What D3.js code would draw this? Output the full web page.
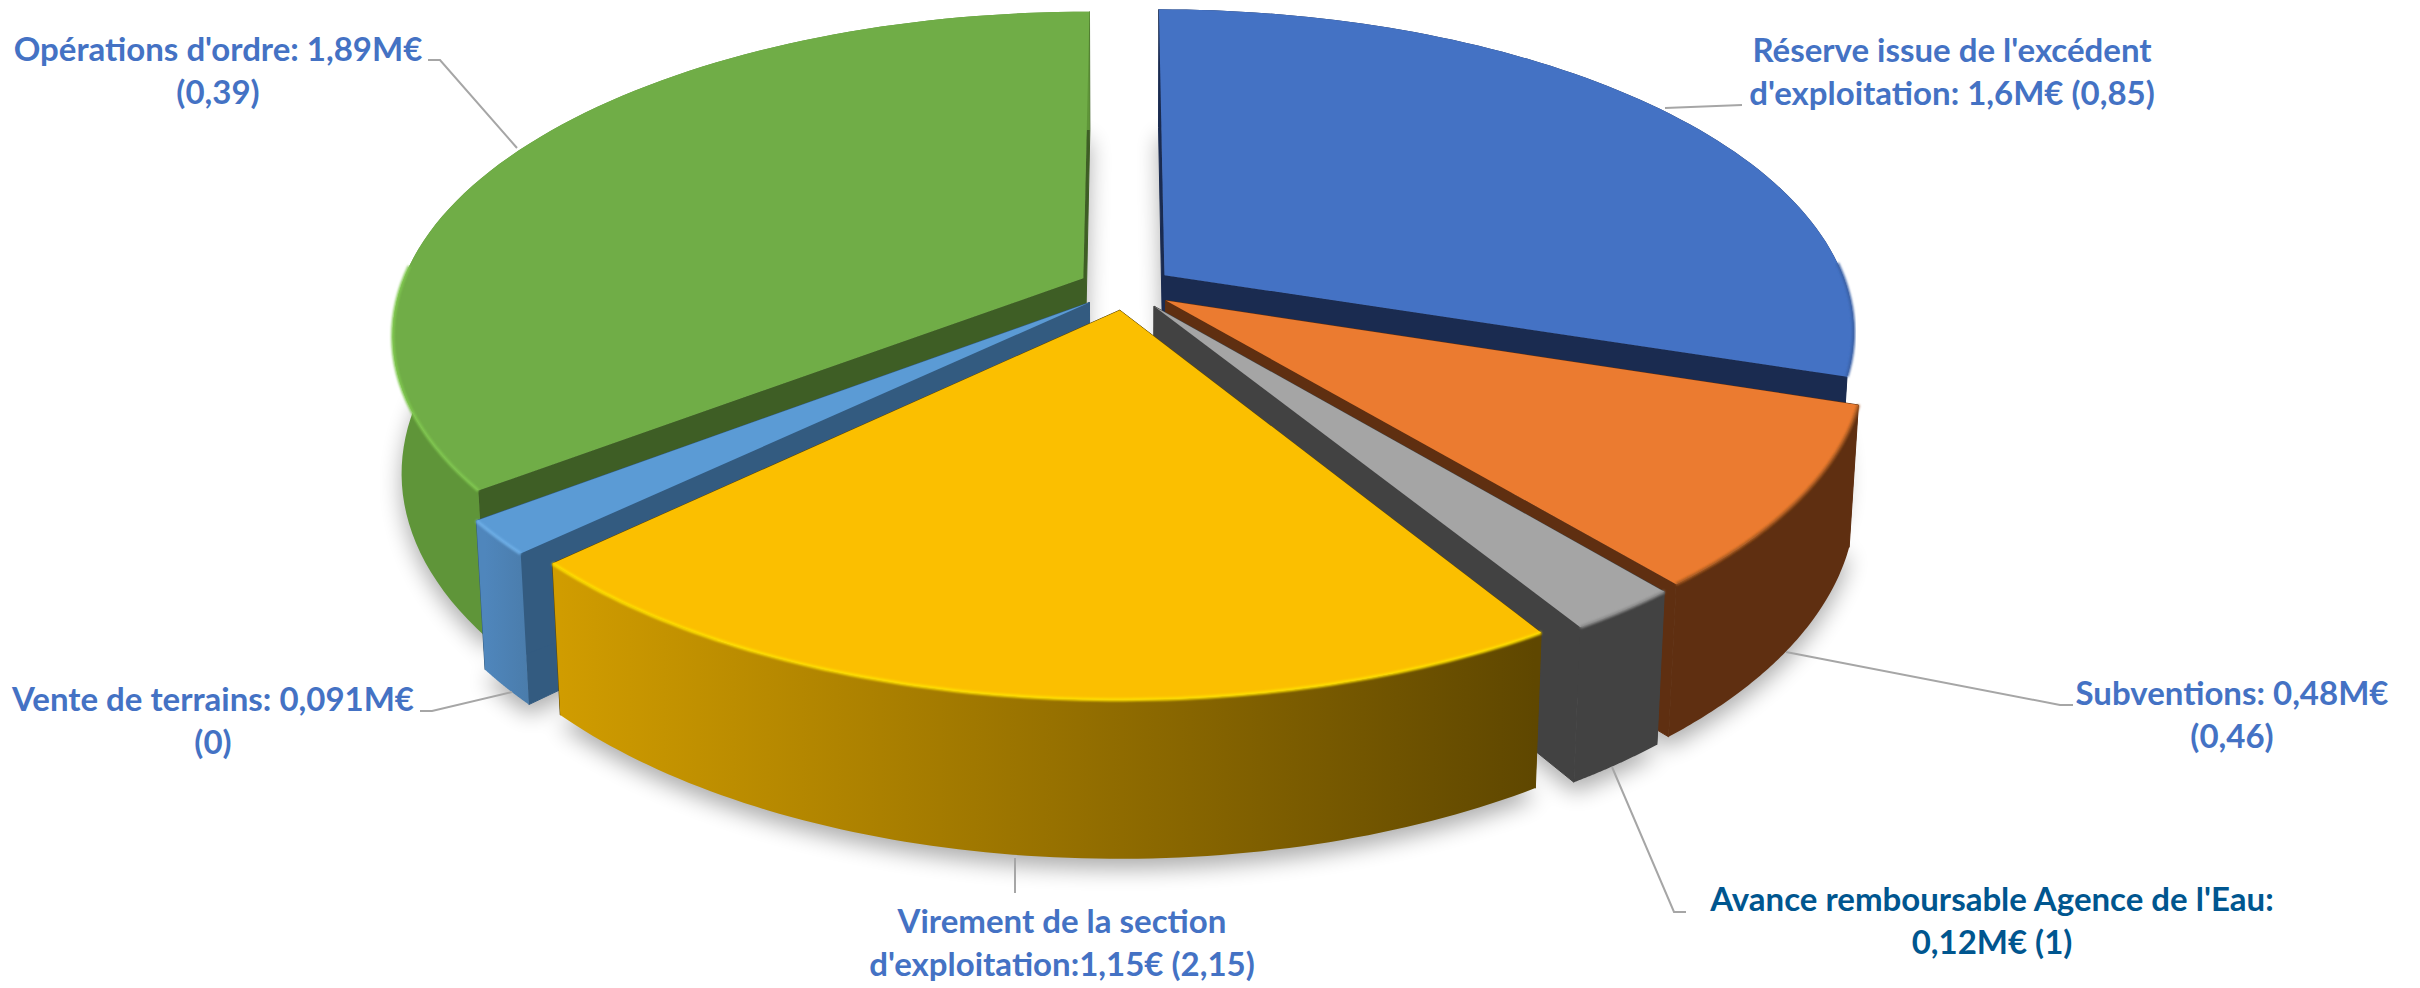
<!DOCTYPE html>
<html>
<head>
<meta charset="utf-8">
<style>
html, body { margin: 0; background: #fff; }
svg { display: block; }
.lab { font-family: Lato, sans-serif; font-weight: 700; font-size: 33px; text-anchor: middle; }
</style>
<script src="https://d3js.org/d3.v7.min.js"></script>
</head>
<body>
<svg id="chart" width="2420" height="988"></svg>
<script>
/*    ========    DATA    =========    */

var categories = ["Réserve", "Subventions", "Avance", "Virement", "Vente", "Opérations"];
var values = [1.6, 0.48, 0.12, 1.15, 0.091, 1.89];

var labelLines = [
    ["Réserve issue de l'excédent", "d'exploitation: 1,6M€ (0,85)"],
    ["Subventions: 0,48M€", "(0,46)"],
    ["Avance remboursable Agence de l'Eau:", "0,12M€ (1)"],
    ["Virement de la section", "d'exploitation:1,15€ (2,15)"],
    ["Vente de terrains: 0,091M€", "(0)"],
    ["Opérations d'ordre: 1,89M€", "(0,39)"]
];

/*    ========    SETTINGS    =========    */

var svg = d3.select("#chart");
var defs = svg.append("defs");

var topColor  = ["#4472C4", "#EB7B30", "#A5A5A5", "#FBBF00", "#5B9BD5", "#70AD47"];
var faceColor = ["#1A2B50", "#5F2F11", "#424242", "#5F4700", "#335B80", "#3E5E25"];
var wallFrom  = ["#1A2B50", "#5F2F11", "#424242", "#D09C00", "#4F86BC", "#5F9539"];
var wallTo    = ["#1A2B50", "#5F2F11", "#424242", "#5F4700", "#4A7CAB", "#5F9539"];
var rimColor  = ["#3A62A8", "#A85A20", "#8A8A8A", "#FFE000", "#6FB0E8", "#80C850"];
var textColor = ["#4472C4", "#4472C4", "#00568F", "#4472C4", "#4472C4", "#4472C4"];

// camera of the fake 3D view
var CX = 1126, CY = 288;
var SCALE_X = 683, SCALE_Y = 315;
var PERSP = 0.17;
var DEPTH_Y = 137, DEPTH_W = 0.012;
var EXPLODE = 0.07;

// label centre x, first baseline, leader points
var labelPos = [
    [1952, 62,  [[1742, 105], [1665, 108]]],
    [2232, 705, [[2073, 705], [2060, 705], [1786, 652]]],
    [1992, 911, [[1686, 912], [1674, 912], [1612, 767]]],
    [1062, 933, [[1015, 893], [1015, 858]]],
    [213,  711, [[420, 711], [432, 711], [512, 692]]],
    [218,  61,  [[428, 60], [440, 60], [517, 148]]]
];

/*    ========    FUNCTIONS    =========    */

// disc point -> screen; t is the angle clockwise from the top, r the radius, d = 0 top, 1 bottom
function project(s, t, r, d) {
    var mid = (s.startAngle + s.endAngle) / 2;
    var X = r * Math.sin(t) + EXPLODE * Math.sin(mid);
    var Y = -r * Math.cos(t) - EXPLODE * Math.cos(mid);
    var w = 1 - PERSP * Y + DEPTH_W * d;
    return [CX + SCALE_X * X / w, CY + (SCALE_Y * Y + DEPTH_Y * d) / w];
}

function arcAngles(s) {
    var scale = d3.scaleLinear().domain([0, 80]).range([s.startAngle, s.endAngle]);
    return d3.range(81).map(scale);
}

function arcPoints(s, d) {
    return arcAngles(s).map(function(t) { return project(s, t, 1, d); });
}

var line = d3.line();

var pie = d3.pie().sort(null);
var slices = pie(values);

/*    ========    DRAW    =========    */

defs.append("filter").attr("id", "soft")
    .attr("x", "-20%").attr("y", "-20%").attr("width", "140%").attr("height", "140%")
    .append("feGaussianBlur").attr("stdDeviation", 11);
defs.append("filter").attr("id", "rim")
    .append("feGaussianBlur").attr("stdDeviation", 1.2);

slices.forEach(function(s, i) {
    var g = defs.append("linearGradient").attr("id", "wall" + i)
        .attr("gradientUnits", "userSpaceOnUse");
    var xs = arcPoints(s, 1).map(function(p) { return p[0]; });
    g.attr("x1", d3.min(xs)).attr("x2", d3.max(xs)).attr("y1", 0).attr("y2", 0);
    g.append("stop").attr("offset", 0).attr("stop-color", wallFrom[i]);
    g.append("stop").attr("offset", 1).attr("stop-color", wallTo[i]);
});

// soft shadow under the bottom faces
var shadow = svg.append("g").attr("filter", "url(#soft)").attr("opacity", 0.32)
    .attr("transform", "translate(0,10)");
slices.forEach(function(s) {
    var pts = arcPoints(s, 1);
    pts.push(project(s, 0, 0, 1));
    shadow.append("path").attr("d", line(pts) + "Z").attr("fill", "#000");
});

// painter's order, back to front
var order = [5, 0, 1, 2, 4, 3];
var plots = svg.append("g").attr("id", "plots");

order.forEach(function(i) {
    var s = slices[i];
    var g = plots.append("g").attr("class", "slice " + categories[i]);
    var apexTop = project(s, 0, 0, 0), apexBot = project(s, 0, 0, 1);
    var top = arcPoints(s, 0), bot = arcPoints(s, 1);

    // the two cut faces
    [0, top.length - 1].forEach(function(k) {
        g.append("path")
            .attr("d", line([apexTop, top[k], bot[k], apexBot]) + "Z")
            .attr("fill", faceColor[i])
            .attr("stroke", faceColor[i]);
    });

    // outer wall
    g.append("path")
        .attr("d", line(top.concat(bot.slice().reverse())) + "Z")
        .attr("fill", "url(#wall" + i + ")");

    // top face
    g.append("path")
        .attr("d", line([apexTop].concat(top)) + "Z")
        .attr("fill", topColor[i]);

    // bevel on the rim, only where the wall shows below it
    var front = arcAngles(s).filter(function(t) { return Math.cos(t) < 0.05; })
        .map(function(t) { return project(s, t, 1, 0); });
    if (front.length > 1) {
        g.append("path")
            .attr("d", line(front))
            .attr("fill", "none")
            .attr("stroke", rimColor[i])
            .attr("stroke-width", 3)
            .attr("filter", "url(#rim)");
    }
});

// == Labels == //
var labels = svg.append("g").attr("id", "labels");

labelPos.forEach(function(p, i) {
    labels.append("path")
        .attr("d", line(p[2]))
        .attr("fill", "none")
        .attr("stroke", "#A6A6A6")
        .attr("stroke-width", 2);
    labelLines[i].forEach(function(txt, k) {
        labels.append("text")
            .attr("class", "lab")
            .attr("x", p[0])
            .attr("y", p[1] + k * 43)
            .attr("fill", textColor[i])
            .text(txt);
    });
});
</script>
</body>
</html>
